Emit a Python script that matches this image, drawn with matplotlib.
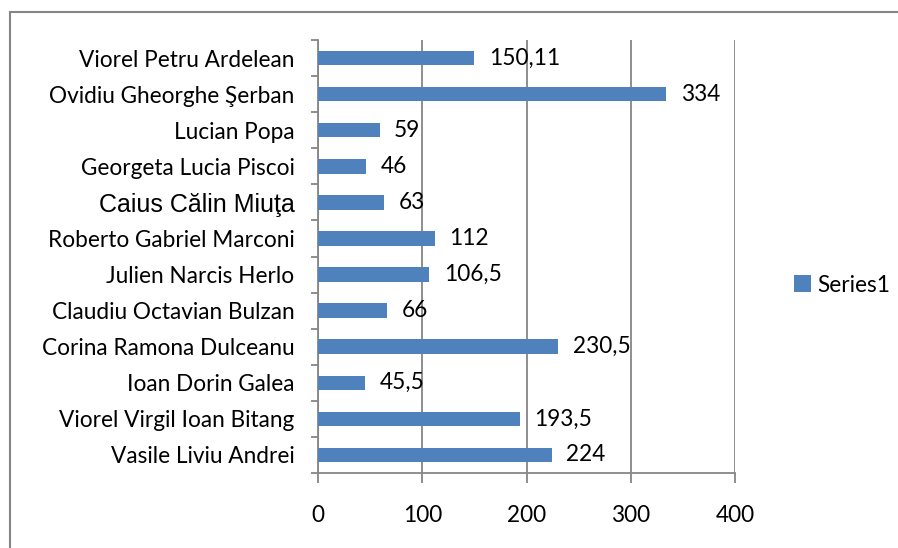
import matplotlib.pyplot as plt
from matplotlib.lines import Line2D

# data, bottom to top as drawn
names = ["Vasile Liviu Andrei", "Viorel Virgil Ioan Bitang", "Ioan Dorin Galea",
         "Corina Ramona Dulceanu", "Claudiu Octavian Bulzan", "Julien Narcis Herlo",
         "Roberto Gabriel Marconi", "Caius Călin Miuţa", "Georgeta Lucia Piscoi",
         "Lucian Popa", "Ovidiu Gheorghe Şerban", "Viorel Petru Ardelean"]
values = [224, 193.5, 45.5, 230.5, 66, 106.5, 112, 63, 46, 59, 334, 150.11]
x_ticks = [0, 100, 200, 300, 400]

bar_color = "#4F81BD"
grid_color = "#868686"
fonts = ["Lato", "DejaVu Sans"]
fsize = 16.3

fig = plt.figure(figsize=(8.98, 5.48), dpi=100)
ax = fig.add_axes([318 / 898, 1 - 473 / 548, 417 / 898, 433 / 548])

pos = list(range(len(names)))
bars = ax.barh(pos, values, height=0.4, color=bar_color, label="Series1", zorder=3)

for y, v in zip(pos, values):
    ax.text(v + 14, y, f"{v:g}".replace(".", ","), va="center", ha="left",
            fontsize=fsize, family=fonts, zorder=4)

ax.set_xlim(0, 400)
ax.set_ylim(-0.5, len(names) - 0.5)
ax.set_xticks(x_ticks)
ax.set_xticklabels([str(t) for t in x_ticks], fontsize=fsize, family=fonts)
ax.tick_params(axis="x", length=7, width=1.3, color=grid_color, pad=16)

ax.set_yticks(pos)
ax.set_yticklabels(names, fontsize=fsize, family=fonts)
for lbl in ax.get_yticklabels():
    if lbl.get_text() == "Caius Călin Miuţa":
        lbl.set_family(["Liberation Sans", "DejaVu Sans"])
        lbl.set_fontsize(18)
ax.tick_params(axis="y", length=0, pad=17)
ax.set_yticks([p - 0.5 for p in pos] + [len(names) - 0.5], minor=True)
ax.tick_params(axis="y", which="minor", length=5, width=1.3, color=grid_color)

ax.grid(axis="x", color=grid_color, linewidth=1.3, zorder=0)
for s in ["top", "right"]:
    ax.spines[s].set_visible(False)
for s in ["left", "bottom"]:
    ax.spines[s].set_color(grid_color)
    ax.spines[s].set_linewidth(1.3)

fig.legend(handles=[bars], labels=["Series1"], loc="center left",
           bbox_to_anchor=(794 / 898, 1 - 285 / 548), frameon=False,
           borderpad=0, borderaxespad=0,
           handlelength=0.75, handleheight=0.75, handletextpad=0.3,
           prop={"family": fonts, "size": fsize})

# outer chart frame (only top and left edges visible)
fig.add_artist(Line2D([10 / 898, 10 / 898], [0, 1 - 12 / 548],
                      transform=fig.transFigure, color=grid_color, linewidth=1.5))
fig.add_artist(Line2D([10 / 898, 1], [1 - 12 / 548, 1 - 12 / 548],
                      transform=fig.transFigure, color=grid_color, linewidth=1.5))

fig.savefig("out.png", dpi=100, facecolor="white")
